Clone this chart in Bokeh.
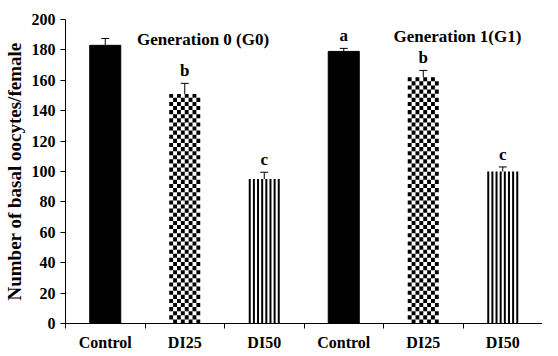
import numpy as np
from bokeh.plotting import figure
from bokeh.models import Range1d, FixedTicker, ColumnDataSource, Whisker, TeeHead
from bokeh.core.properties import value
from bokeh.embed import file_html
from bokeh.resources import INLINE

# ---- data ----
categories = ["Control", "DI25", "DI50", "Control", "DI25", "DI50"]
means = [183, 151, 95, 179, 162, 100]
errors = [4.5, 7, 4.5, 2, 4.5, 3]
letters = ["", "b", "c", "a", "b", "c"]
patterns = ["solid", "checker", "stripes", "solid", "checker", "stripes"]
generation_labels = ["Generation 0 (G0)", "Generation 1(G1)"]
generation_x = [1.73, 4.93]
generation_y = [187, 189]
y_ticks = list(range(0, 201, 20))

FONT = "Liberation Serif"
BAR_W = 0.39

x = [i + 0.5 for i in range(len(categories))]

p = figure(width=542, height=353, output_backend="svg", toolbar_location=None,
           x_range=Range1d(0, 6), y_range=Range1d(0, 200),
           min_border_left=60, min_border_right=0, min_border_top=19, min_border_bottom=0)
p.outline_line_color = None
p.xgrid.grid_line_color = None
p.ygrid.grid_line_color = None
p.background_fill_color = "white"
p.border_fill_color = "white"

# solid bars
solid = [i for i, t in enumerate(patterns) if t == "solid"]
p.vbar(x=[x[i] for i in solid], top=[means[i] for i in solid], width=BAR_W,
       fill_color="black", line_color="black")

# checker bars
ql, qr, qb, qt = [], [], [], []
ncol = 8
cw = BAR_W / ncol
rh = 2.7
for i, t in enumerate(patterns):
    if t != "checker":
        continue
    top = means[i]
    nrow = int(np.ceil(top / rh))
    for r in range(nrow):
        y0 = r * rh
        y1 = min(top, y0 + rh)
        for c in range(ncol):
            if (r + c) % 2 == 1:
                x0 = x[i] - BAR_W / 2 + c * cw
                ql.append(x0); qr.append(x0 + cw); qb.append(y0); qt.append(y1)
p.quad(left=ql, right=qr, bottom=qb, top=qt, fill_color="black", line_color=None)

# striped bars
sl, sr, sb, st = [], [], [], []
nstripe = 8
sw = 0.025
for i, t in enumerate(patterns):
    if t != "stripes":
        continue
    left0 = x[i] - BAR_W / 2
    step = (BAR_W - sw) / (nstripe - 1)
    for k in range(nstripe):
        l = left0 + k * step
        sl.append(l); sr.append(l + sw); sb.append(0); st.append(means[i])
p.quad(left=sl, right=sr, bottom=sb, top=st, fill_color="black", line_color=None)

# error bars (upper only)
src = ColumnDataSource(dict(x=x, lower=means, upper=[m + e for m, e in zip(means, errors)]))
w = Whisker(source=src, base="x", lower="lower", upper="upper", dimension="height",
            line_color="black", line_width=1,
            upper_head=TeeHead(size=8, line_color="black", line_width=1), lower_head=None)
p.add_layout(w)

# significance letters
lsrc = ColumnDataSource(dict(x=x, y=[m + e for m, e in zip(means, errors)], t=letters))
p.text(x="x", y="y", text="t", source=lsrc, text_align="center", text_baseline="bottom",
       y_offset=-3, text_font=value(FONT), text_font_style="bold", text_font_size="17px",
       text_color="black")

# generation labels
p.text(x=generation_x, y=generation_y, text=generation_labels, text_align="center",
       text_baseline="middle", text_font=value(FONT), text_font_style="bold",
       text_font_size="17px", text_color="black")

# x axis
xa = p.xaxis[0]
xa.ticker = FixedTicker(ticks=x, minor_ticks=list(range(0, 7)))
xa.major_label_overrides = {xi: c for xi, c in zip(x, categories)}
xa.major_tick_line_color = None
xa.major_tick_in = 0
xa.major_tick_out = 5
xa.minor_tick_line_color = "black"
xa.minor_tick_in = 0
xa.minor_tick_out = 5
xa.major_label_standoff = 5
xa.major_label_text_font = FONT
xa.major_label_text_font_style = "bold"
xa.major_label_text_font_size = "16px"
xa.major_label_text_color = "black"
xa.axis_line_color = "black"

# y axis
ya = p.yaxis[0]
ya.ticker = FixedTicker(ticks=y_ticks)
ya.major_tick_in = 0
ya.major_tick_out = 5
ya.minor_tick_line_color = None
ya.major_label_standoff = 5
ya.major_label_text_font = FONT
ya.major_label_text_font_style = "bold"
ya.major_label_text_font_size = "16px"
ya.major_label_text_color = "black"
ya.axis_label = "Number of basal oocytes/female"
ya.axis_label_text_font = FONT
ya.axis_label_text_font_style = "bold"
ya.axis_label_text_font_size = "19px"
ya.axis_label_text_color = "black"
ya.axis_label_standoff = 4
ya.axis_line_color = "black"

open("out.html", "w").write(file_html(p, INLINE))
